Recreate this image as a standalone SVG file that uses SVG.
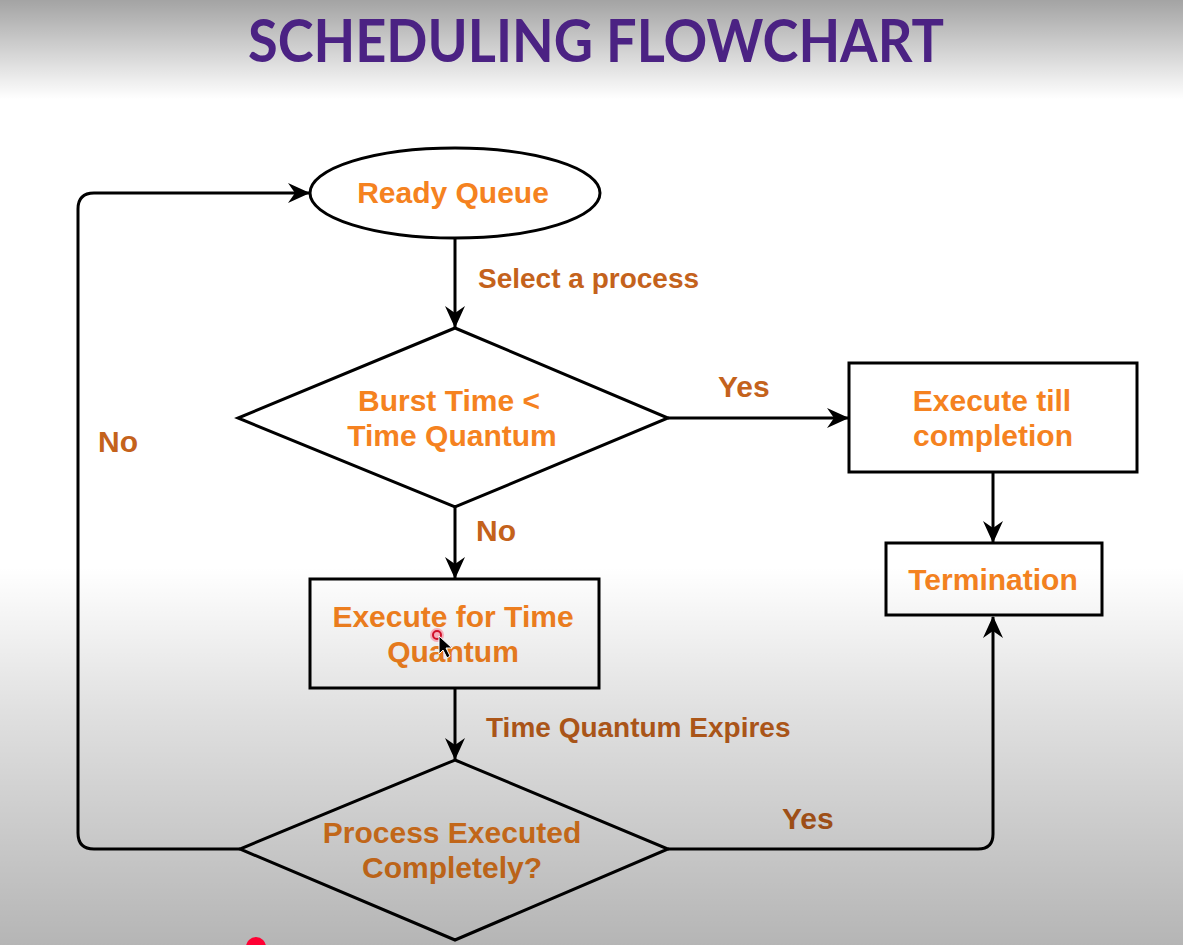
<svg xmlns="http://www.w3.org/2000/svg" width="1183" height="945" viewBox="0 0 1183 945">
<style>
.shape{fill:#ffffff;stroke:#000000;stroke-width:3}
.conn{fill:none;stroke:#000000;stroke-width:3}
.nt{font-family:"Liberation Sans",Arial,sans-serif;font-weight:bold;font-size:30px;fill:#F58220;text-anchor:middle}
.lt{font-family:"Liberation Sans",Arial,sans-serif;font-weight:bold;font-size:28px;fill:#C4621C}
.yn{font-family:"Liberation Sans",Arial,sans-serif;font-weight:bold;font-size:30px;fill:#C4621C}
.title{font-family:Lato,"Liberation Sans",sans-serif;font-weight:bold;font-size:60px;fill:#4B2283;text-anchor:middle}
</style>
<defs>
<marker id="arr" markerUnits="userSpaceOnUse" viewBox="0 0 22 22" refX="21" refY="11" markerWidth="22" markerHeight="22" orient="auto">
<path d="M0,1 L22,11 L0,21 L7,11 Z" fill="#000000"/>
</marker>
<linearGradient id="shade" x1="0" y1="0" x2="0" y2="1">
<stop offset="0" stop-color="#000" stop-opacity="0.36"/>
<stop offset="0.105" stop-color="#000" stop-opacity="0"/>
<stop offset="0.6" stop-color="#000" stop-opacity="0"/>
<stop offset="0.75" stop-color="#000" stop-opacity="0.12"/>
<stop offset="1" stop-color="#000" stop-opacity="0.29"/>
</linearGradient>
</defs>
<rect x="0" y="0" width="1183" height="945" fill="#ffffff"/>
<g id="connectors">
<line class="conn" x1="455" y1="238" x2="455" y2="327" marker-end="url(#arr)"/>
<line class="conn" x1="668" y1="418" x2="848" y2="418" marker-end="url(#arr)"/>
<line class="conn" x1="455" y1="507" x2="455" y2="578" marker-end="url(#arr)"/>
<line class="conn" x1="993" y1="472" x2="993" y2="542" marker-end="url(#arr)"/>
<line class="conn" x1="455" y1="688" x2="455" y2="759" marker-end="url(#arr)"/>
<path class="conn" d="M668,849 L978,849 Q993,849 993,834 L993,617" marker-end="url(#arr)"/>
<path class="conn" d="M240,849 L94,849 Q78,849 78,833 L78,209 Q78,193 94,193 L309,193" marker-end="url(#arr)"/>
<text class="lt" x="478" y="288">Select a process</text>
<text class="yn" x="718" y="397">Yes</text>
<text class="yn" x="476" y="541">No</text>
<text class="lt" x="486" y="737">Time Quantum Expires</text>
<text class="yn" x="782" y="829">Yes</text>
<text class="yn" x="98" y="452">No</text>
</g>
<g id="ready-queue">
<ellipse class="shape" cx="455" cy="193" rx="145" ry="45"/>
<text class="nt" x="453" y="203">Ready Queue</text>
</g>
<g id="burst-decision">
<polygon class="shape" points="455,328 668,418 455,507 238,418"/>
<text class="nt" x="449" y="411">Burst Time &lt;</text>
<text class="nt" x="452" y="446">Time Quantum</text>
</g>
<g id="execute-completion">
<rect class="shape" x="849" y="363" width="288" height="109"/>
<text class="nt" x="992" y="411">Execute till</text>
<text class="nt" x="993" y="446">completion</text>
</g>
<g id="termination">
<rect class="shape" x="886" y="543" width="216" height="72"/>
<text class="nt" x="993" y="590">Termination</text>
</g>
<g id="execute-quantum">
<rect class="shape" x="310" y="579" width="289" height="109"/>
<text class="nt" x="453" y="627">Execute for Time</text>
<text class="nt" x="453" y="662">Quantum</text>
</g>
<g id="completed-decision">
<polygon class="shape" points="455,760 668,849 455,940 240,849"/>
<text class="nt" x="452" y="843">Process Executed</text>
<text class="nt" x="452" y="878">Completely?</text>
</g>
<rect x="0" y="0" width="1183" height="945" fill="url(#shade)"/>
<g id="cursor">
<circle cx="437" cy="635" r="7" fill="#ff3355" fill-opacity="0.35"/>
<circle cx="437" cy="635" r="4" fill="none" stroke="#d0102a" stroke-width="2"/>
<polygon points="439,636 439,654 443,650 447,658 450,656 446,648 452,648" fill="#000000" stroke="#ffffff" stroke-width="1"/>
<circle cx="256" cy="947" r="10" fill="#ff0033"/>
</g>
<text class="title" x="596" y="62" textLength="696" lengthAdjust="spacingAndGlyphs">SCHEDULING FLOWCHART</text>
</svg>
